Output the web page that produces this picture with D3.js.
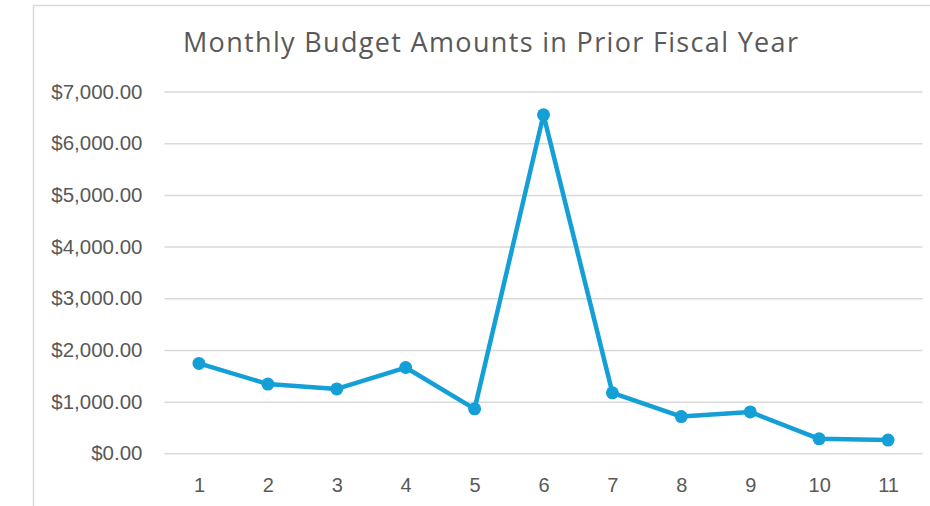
<!DOCTYPE html>
<html>
<head>
<meta charset="utf-8">
<script src="https://cdn.jsdelivr.net/npm/d3@7"></script>
<style>
  html, body { margin: 0; padding: 0; background: #fff; }
  svg { display: block; }
</style>
</head>
<body>
<svg id="chart" width="930" height="506"></svg>
<script>
const months = ["1","2","3","4","5","6","7","8","9","10","11"];
const amounts = [1740, 1340, 1245, 1660, 860, 6550, 1170, 710, 800, 280, 255];
const yTicks = [0, 1000, 2000, 3000, 4000, 5000, 6000, 7000];
const title = "Monthly Budget Amounts in Prior Fiscal Year";

const svg = d3.select("#chart");

// chart area border
svg.append("rect")
  .attr("x", 33.5).attr("y", 5.5)
  .attr("width", 940).attr("height", 520)
  .attr("fill", "#fff")
  .attr("stroke", "#d9d9d9").attr("stroke-width", 1.5);

const plot = { left: 164.5, right: 922.5, top: 91.6, bottom: 453.3 };

const x = d3.scalePoint().domain(months).range([plot.left, plot.right]).padding(0.5);
const y = d3.scaleLinear().domain([0, 7000]).range([plot.bottom, plot.top]);

// title
svg.append("text")
  .attr("x", 183).attr("y", 52)
  .attr("font-family", "'Open Sans', sans-serif")
  .attr("font-size", 27)
  .attr("textLength", 615)
  .attr("lengthAdjust", "spacing")
  .attr("fill", "#595959")
  .text(title);

const yAxis = d3.axisLeft(y).tickValues(yTicks)
  .tickSize(-(plot.right - plot.left))
  .tickPadding(22)
  .tickFormat(d => "$" + d3.format(",.2f")(d));

const gy = svg.append("g")
  .attr("transform", `translate(${plot.left},0)`)
  .call(yAxis);
gy.select(".domain").remove();
gy.selectAll(".tick line").attr("stroke", "#d9d9d9").attr("stroke-width", 1.5);
gy.selectAll(".tick text")
  .attr("font-family", "'Liberation Sans', Arial, sans-serif")
  .attr("font-size", 20.5)
  .attr("fill", "#595959");

const xAxis = d3.axisBottom(x).tickSize(0).tickPadding(25);
const gx = svg.append("g")
  .attr("transform", `translate(0,${plot.bottom})`)
  .call(xAxis);
gx.select(".domain").remove();
gx.selectAll(".tick text")
  .attr("font-family", "'Liberation Sans', Arial, sans-serif")
  .attr("font-size", 20)
  .attr("fill", "#595959");

const data = months.map((m, i) => ({ m, v: amounts[i] }));
const line = d3.line().x(d => x(d.m)).y(d => y(d.v));

svg.append("path")
  .datum(data)
  .attr("d", line)
  .attr("fill", "none")
  .attr("stroke", "#159fd7")
  .attr("stroke-width", 4.5)
  .attr("stroke-linejoin", "round");

svg.selectAll("circle.pt")
  .data(data)
  .join("circle")
  .attr("class", "pt")
  .attr("cx", d => x(d.m))
  .attr("cy", d => y(d.v))
  .attr("r", 6.5)
  .attr("fill", "#159fd7");
</script>
</body>
</html>
